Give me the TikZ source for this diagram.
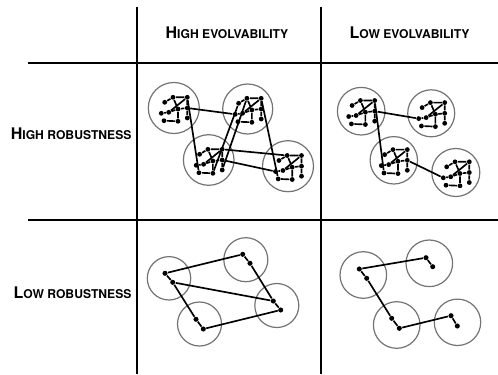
\documentclass[tikz,border=0pt]{standalone}
\usepackage{fontspec}
\newfontfamily\headfont{TeX Gyre Heros}
% fake small caps: big first letter, small rest
\newcommand\capsc[2]{{\fontsize{12}{13}\selectfont #1}{\fontsize{9.1}{10}\selectfont #2}}

\tikzset{every picture/.style={line width=0.75pt}}
\tikzset{
  dot/.style={circle,fill=black,inner sep=0pt,minimum size=3.6pt},
  bigdot/.style={circle,fill=black,inner sep=0pt,minimum size=3.8pt},
  cluster/.style={draw={rgb, 255:red, 115; green, 115; blue, 115},line width=0.9pt},
  grid/.style={line width=1.5pt},
  link/.style={line width=1.25pt},
  head/.style={inner sep=0.75pt,font=\headfont\bfseries},
  % small network sitting inside a cluster
  motif/.pic={
    \node[dot] (-p1) at (-9.8,-12.7) {};
    \node[dot] (-p2) at (4.2,-13.3) {};
    \node[dot] (-p3) at (13.5,-10) {};
    \node[dot] (-p4) at (-12.5,-5.3) {};
    \node[dot] (-p5) at (-5.1,-4.3) {};
    \node[dot] (-p6) at (4.2,-1) {};
    \node[dot] (-p7) at (13.5,0) {};
    \node[dot] (-p8) at (-9.1,5.7) {};
    \node[dot] (-p9) at (-0.8,10.7) {};
    \node[dot] (-p10) at (13.5,10.7) {};
    \draw[link] (-p1) -- (-p2) -- (-p6) -- (-p7) -- (-p3);
    \draw[link] (-p4) -- (-p5) -- (-p10) -- (-p7);
    \draw[link] (-p8) -- (-p9) -- (-p10);
    \draw[link] (-p5) -- (-p6) -- (-p9);
  }
}

\begin{document}
\begin{tikzpicture}[x=0.75pt,y=0.75pt,yscale=-1,xscale=1]
	\useasboundingbox (0,0) rectangle (498,374);

	% Grid
	\draw [grid] (136.5,7) -- (136.5,374) ;
	\draw [grid] (320.7,7) -- (320.7,374) ;
	\draw [grid] (28,63.3) -- (498,63.3) ;
	\draw [grid] (28,220) -- (498,220) ;

	% Text Node
	\node [head] (hevo) at (227,32.5) {\capsc{H}{IGH EVOLVABILITY}};
	\node [head] (levo) at (409.5,32.5) {\capsc{L}{OW EVOLVABILITY}};
	\node [head,anchor=east] (hrob) at (133,133.5) {\capsc{H}{IGH ROBUSTNESS}};
	\node [head,anchor=east] (lrob) at (133,293) {\capsc{L}{OW ROBUSTNESS}};

	% High robustness, high evolvability
	\draw [cluster] (173.8,108) circle [radius=25.5] ;
	\draw [cluster] (247.7,109) circle [radius=25] ;
	\draw [cluster] (208.7,160) circle [radius=25.3] ;
	\draw [cluster] (288,166.2) circle [radius=25.5] ;
	\pic (hhA) at (173.8,108) {motif};
	\pic (hhB) at (247.7,109) {motif};
	\pic (hhC) at (208.7,160) {motif};
	\pic (hhD) at (288,166.2) {motif};
	% Connection
	\draw [link] (hhA-p7) -- (hhB-p4) ;
	\draw [link] (hhA-p10) -- (hhC-p1) ;
	\draw [link] (hhB-p8) -- (hhC-p2) ;
	\draw [link] (hhB-p9) -- (hhC-p3) ;
	\draw [link] (hhB-p10) -- (hhD-p1) ;
	\draw [link] (hhC-p7) -- (hhD-p4) ;
	\draw [link] (hhC-p10) -- (hhD-p9) ;

	% High robustness, low evolvability
	\draw [cluster] (361.2,111.2) circle [radius=23.8] ;
	\draw [cluster] (431.2,113.3) circle [radius=23.5] ;
	\draw [cluster] (393.8,160.3) circle [radius=23.7] ;
	\draw [cluster] (455.8,172.5) circle [radius=24] ;
	\pic (hlA) at (361.2,111.2) {motif};
	\pic (hlB) at (431.2,113.3) {motif};
	\pic (hlC) at (393.8,160.3) {motif};
	\pic (hlD) at (455.8,172.5) {motif};
	% Connection
	\draw [link] (hlA-p7) -- (hlB-p4) ;
	\draw [link] (hlA-p10) -- (hlC-p1) ;
	\draw [link] (hlC-p7) -- (hlD-p4) ;

	% Low robustness, high evolvability
	\draw [cluster] (169,278.3) circle [radius=21.7] ;
	\draw [cluster] (245.8,259.7) circle [radius=22] ;
	\draw [cluster] (199.5,324) circle [radius=22] ;
	\draw [cluster] (276.8,305.5) circle [radius=22] ;
	\node [bigdot] (lhA1) at (165,273.3) {};
	\node [bigdot] (lhA2) at (172.7,282.3) {};
	\node [bigdot] (lhB1) at (242.7,254.3) {};
	\node [bigdot] (lhB2) at (250,263.3) {};
	\node [bigdot] (lhC1) at (196,319.3) {};
	\node [bigdot] (lhC2) at (203.3,329) {};
	\node [bigdot] (lhD1) at (273.3,301) {};
	\node [bigdot] (lhD2) at (280.7,310) {};
	% Connection
	\draw [link] (lhA1) -- (lhB1) -- (lhB2) -- (lhD1) -- (lhD2) -- (lhC2) -- (lhC1) -- (lhA2) -- (lhA1) ;
	\draw [link] (lhA2) -- (lhD1) ;

	% Low robustness, low evolvability
	\draw [cluster] (363.3,275) circle [radius=23.3] ;
	\draw [cluster] (429.3,263.3) circle [radius=23.3] ;
	\draw [cluster] (396.7,325) circle [radius=23.3] ;
	\draw [cluster] (457.5,322.3) circle [radius=23.2] ;
	\node [bigdot] (llA1) at (359.3,269) {};
	\node [bigdot] (llA2) at (366.7,278.3) {};
	\node [bigdot] (llB1) at (426,257.7) {};
	\node [bigdot] (llB2) at (432.7,266.7) {};
	\node [bigdot] (llC1) at (391.7,318.3) {};
	\node [bigdot] (llC2) at (399.3,328.3) {};
	\node [bigdot] (llD1) at (451,315.7) {};
	\node [bigdot] (llD2) at (457.3,326) {};
	% Connection
	\draw [link] (llB2) -- (llB1) -- (llA1) -- (llA2) -- (llC1) -- (llC2) -- (llD1) -- (llD2) ;

\end{tikzpicture}
\end{document}
